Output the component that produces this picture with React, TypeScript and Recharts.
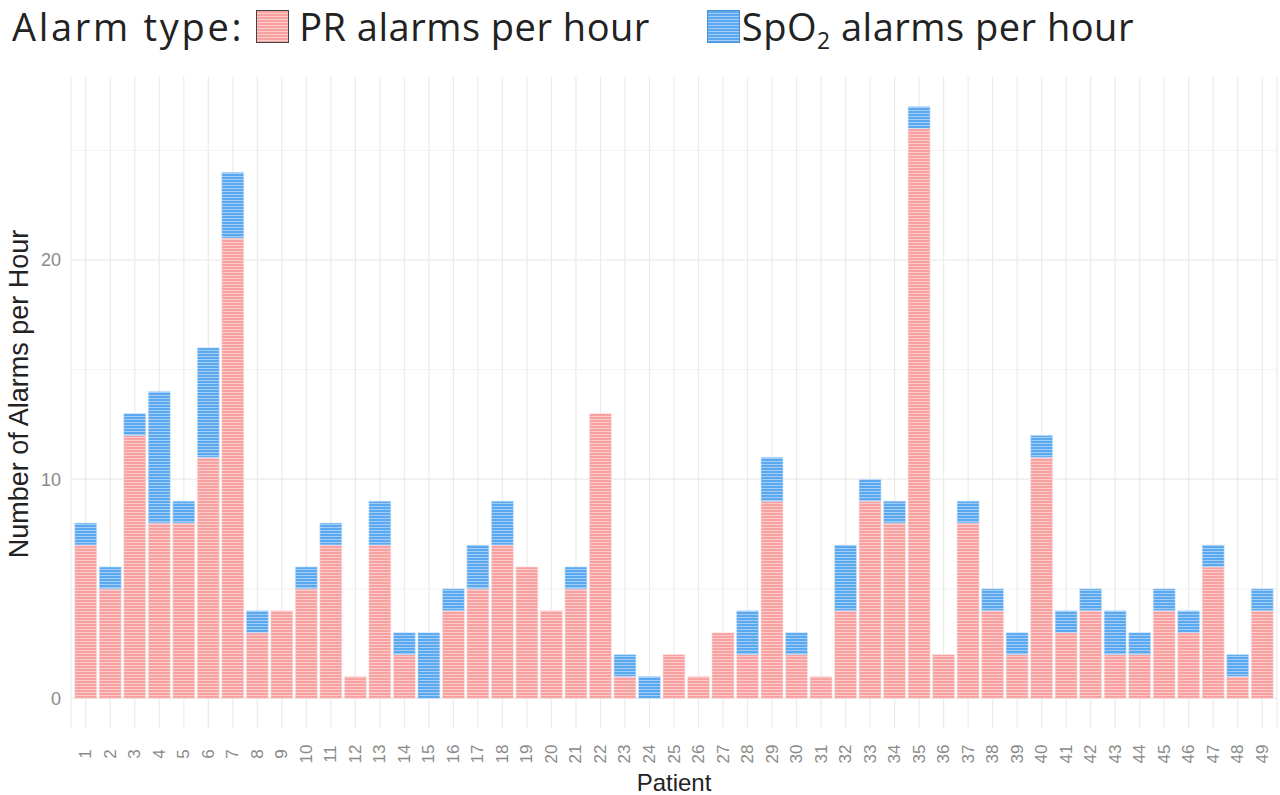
import React from "react";
import { BarChart, Bar, XAxis, YAxis, CartesianGrid } from "recharts";

const patients = Array.from({ length: 49 }, (_, i) => String(i + 1));
const prAlarms = [
  7, 5, 12, 8, 8, 11, 21, 3, 4, 5, 7, 1, 7, 2, 0, 4, 5, 7, 6, 4, 5, 13, 1, 0,
  2, 1, 3, 2, 9, 2, 1, 4, 9, 8, 26, 2, 8, 4, 2, 11, 3, 4, 2, 2, 4, 3, 6, 1, 4,
];
const spo2Alarms = [
  1, 1, 1, 6, 1, 5, 3, 1, 0, 1, 1, 0, 2, 1, 3, 1, 2, 2, 0, 0, 1, 0, 1, 1, 0,
  0, 0, 2, 2, 1, 0, 3, 1, 1, 1, 0, 1, 1, 1, 1, 1, 1, 2, 1, 1, 1, 1, 1, 1,
];
const yTicks = [0, 10, 20];
const minorLines = [5, 15, 25];

const data = patients.map((p, i) => ({
  patient: p,
  pr: prAlarms[i],
  spo2: spo2Alarms[i],
}));

const PINK = "#F7A1A1";
const BLUE = "#5AA8F0";

const legendItems = [
  { key: "pr", color: PINK, light: "#FCCACA", border: "#444", label: <>PR alarms per hour</> },
  {
    key: "spo2",
    color: BLUE,
    light: "#A4CDF6",
    border: "#4A90D0",
    label: (
      <>
        SpO<sub style={{ fontSize: "0.6em", verticalAlign: "-0.35em", lineHeight: 0 }}>2</sub> alarms per hour
      </>
    ),
  },
];

const stripes = (base: string, light: string) =>
  `repeating-linear-gradient(to bottom, ${base} 0px, ${base} 2px, ${light} 2px, ${light} 3px)`;

const PatientTick = (props: any) => {
  const { x, y, payload } = props;
  return (
    <text
      x={x}
      y={y + 18}
      transform={`rotate(-90, ${x}, ${y + 18})`}
      textAnchor="middle"
      dominantBaseline="central"
      fontSize={17}
      fill="#8a8a8a"
      fontFamily="Liberation Sans, Arial, sans-serif"
    >
      {payload.value}
    </text>
  );
};

const YTitle = () => (
  <text
    x={19}
    y={394}
    transform="rotate(-90, 19, 394)"
    textAnchor="middle"
    dominantBaseline="central"
    fontSize={27}
    fill="#222"
    fontFamily="Liberation Sans, Arial, sans-serif"
  >
    Number of Alarms per Hour
  </text>
);

export default function App() {
  return (
    <div
      style={{
        position: "absolute",
        left: 0,
        top: 0,
        width: 1280,
        height: 795,
        background: "#fff",
      }}
    >
      <div
        style={{
          position: "absolute",
          left: 12,
          top: 0,
          display: "flex",
          alignItems: "center",
          fontFamily: "Open Sans, sans-serif",
          fontSize: 38,
          color: "#222",
          whiteSpace: "nowrap",
        }}
      >
        <span style={{ marginRight: 12, letterSpacing: 2.7 }}>Alarm type:</span>
        {legendItems.map((it, i) => (
          <span
            key={it.key}
            style={{ display: "flex", alignItems: "center", marginRight: i === 0 ? 57 : 0 }}
          >
            <span
              style={{
                display: "inline-block",
                width: 33,
                height: 33,
                boxSizing: "border-box",
                border: `1.5px solid ${it.border}`,
                background: stripes(it.color, it.light),
                marginRight: i === 0 ? 10 : 2,
              }}
            />
            <span style={{ letterSpacing: 0.5 }}>{it.label}</span>
          </span>
        ))}
      </div>
      <BarChart
        width={1280}
        height={795}
        data={data}
        margin={{ top: 77, right: 3, bottom: 0, left: 0 }}
        barCategoryGap="5%"
      >
        <defs>
          <pattern id="prStripe" patternUnits="userSpaceOnUse" width={6} height={3}>
            <rect width={6} height={3} fill={PINK} />
            <rect y={2} width={6} height={1} fill="#FCCACA" />
          </pattern>
          <pattern id="spoStripe" patternUnits="userSpaceOnUse" width={6} height={3}>
            <rect width={6} height={3} fill={BLUE} />
            <rect y={2} width={6} height={1} fill="#A4CDF6" />
          </pattern>
        </defs>
        <CartesianGrid
          stroke="#f5f5f5"
          strokeWidth={1.2}
          vertical={false}
          horizontalValues={minorLines}
        />
        <CartesianGrid stroke="#ebebeb" strokeWidth={1.2} horizontalValues={yTicks} />
        <XAxis
          dataKey="patient"
          height={67}
          axisLine={false}
          tickLine={false}
          interval={0}
          padding={{ left: 2.5, right: 2.5 }}
          tick={<PatientTick />}
          label={{
            value: "Patient",
            position: "insideBottom",
            offset: 4,
            fontSize: 24,
            fill: "#222",
            fontFamily: "Liberation Sans, Arial, sans-serif",
          }}
        />
        <YAxis
          type="number"
          width={71}
          domain={[-1.35, 28.35]}
          allowDataOverflow
          ticks={yTicks}
          axisLine={false}
          tickLine={false}
          tickMargin={4}
          tick={{ fontSize: 18, fill: "#8a8a8a", fontFamily: "Liberation Sans, Arial, sans-serif" }}
          label={<YTitle />}
        />
        <Bar
          dataKey="pr"
          stackId="a"
          fill="url(#prStripe)"
          stroke="#fde3e3"
          strokeWidth={0.6}
          isAnimationActive={false}
        />
        <Bar
          dataKey="spo2"
          stackId="a"
          fill="url(#spoStripe)"
          stroke="#cfe5fb"
          strokeWidth={0.6}
          isAnimationActive={false}
        />
      </BarChart>
    </div>
  );
}
